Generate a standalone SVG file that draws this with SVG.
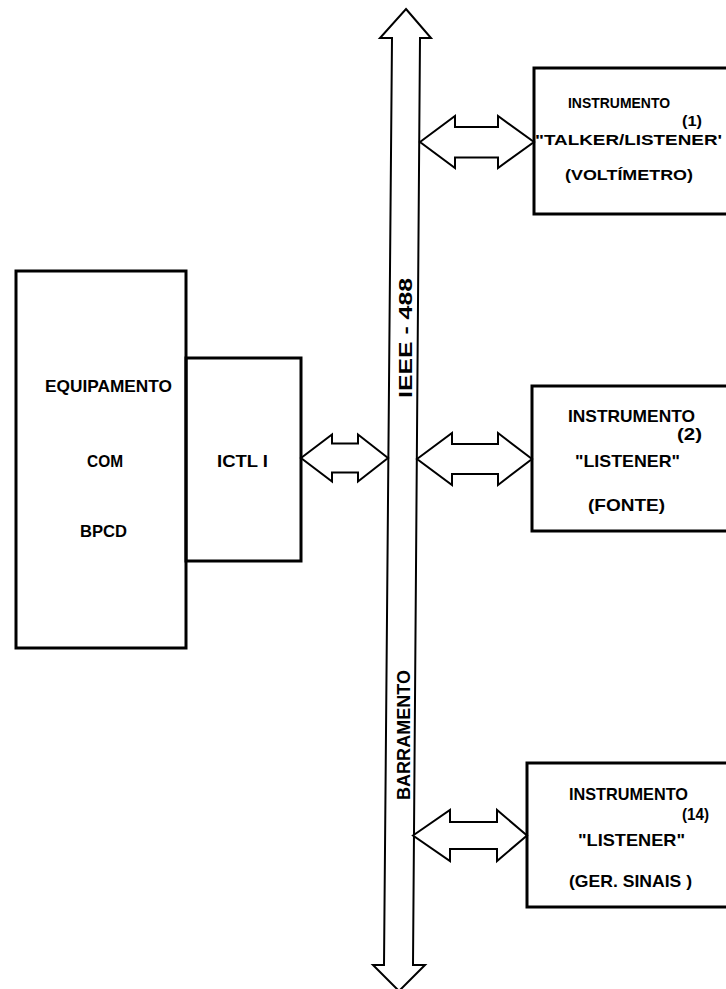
<svg xmlns="http://www.w3.org/2000/svg" width="726" height="989" viewBox="0 0 726 989">
<style>
.box{fill:none;stroke:#000;stroke-width:3}
.arr{fill:#fff;stroke:#000;stroke-width:2;stroke-linejoin:miter}
.bus{fill:#fff;stroke:#000;stroke-width:2}
text{font-family:"Liberation Sans",Arial,sans-serif;font-weight:bold;fill:#000}
.s15{font-size:15.5px}
.s16{font-size:16px}
.s17{font-size:17px}
.s18{font-size:18px}
</style>
<rect width="726" height="989" fill="#fff"/>
<g id="bus">
<polygon class="bus" points="406,9 431,38 420,38 413,965 425,965 399,991 373,965 384,965 392,38 380,38"/>
<text class="s18" transform="translate(411.5,338) rotate(-90)" text-anchor="middle" textLength="120" lengthAdjust="spacingAndGlyphs">IEEE - 488</text>
<text class="s18" transform="translate(409.5,735) rotate(-90)" text-anchor="middle" textLength="130" lengthAdjust="spacingAndGlyphs">BARRAMENTO</text>
</g>
<g id="connectors">
<polygon class="arr" points="301,458 332,434.5 332,443.5 358,443.5 358,434.5 388,458 358,481.5 358,472.5 332,472.5 332,481.5"/>
<polygon class="arr" points="420,142 455,116 455,127 498,127 498,116 534,142 498,168 498,157.5 455,157.5 455,168"/>
<polygon class="arr" points="417,459 452,433 452,444 498,444 498,433 532,459 498,485 498,474 452,474 452,485"/>
<polygon class="arr" points="413,835.5 450,810 450,822 497,822 497,810 527,835.5 497,861 497,849 450,849 450,861"/>
</g>
<g id="equipamento">
<rect class="box" x="16" y="271" width="170" height="377"/>
<text class="s17" x="45" y="392" textLength="127" lengthAdjust="spacingAndGlyphs">EQUIPAMENTO</text>
<text class="s17" x="87" y="467" textLength="36" lengthAdjust="spacingAndGlyphs">COM</text>
<text class="s17" x="80" y="537" textLength="47" lengthAdjust="spacingAndGlyphs">BPCD</text>
</g>
<g id="ictl">
<rect class="box" x="186" y="358" width="115" height="203"/>
<text class="s17" x="217" y="467" textLength="51" lengthAdjust="spacingAndGlyphs">ICTL I</text>
</g>
<g id="instr1">
<rect class="box" x="534" y="68" width="200" height="146"/>
<text class="s15" x="568" y="108" textLength="102" lengthAdjust="spacingAndGlyphs">INSTRUMENTO</text>
<text class="s15" x="682" y="126" textLength="20" lengthAdjust="spacingAndGlyphs">(1)</text>
<text class="s15" x="535" y="145" textLength="187" lengthAdjust="spacingAndGlyphs">"TALKER/LISTENER'</text>
<text class="s15" x="565" y="180" textLength="128" lengthAdjust="spacingAndGlyphs">(VOLTÍMETRO)</text>
</g>
<g id="instr2">
<rect class="box" x="532" y="386" width="200" height="145"/>
<text class="s17" x="568" y="422" textLength="127" lengthAdjust="spacingAndGlyphs">INSTRUMENTO</text>
<text class="s17" x="677" y="440" textLength="25" lengthAdjust="spacingAndGlyphs">(2)</text>
<text class="s17" x="575" y="467" textLength="105" lengthAdjust="spacingAndGlyphs">"LISTENER"</text>
<text class="s17" x="588" y="511" textLength="77" lengthAdjust="spacingAndGlyphs">(FONTE)</text>
</g>
<g id="instr14">
<rect class="box" x="527" y="763" width="205" height="144"/>
<text class="s17" x="569" y="800" textLength="119" lengthAdjust="spacingAndGlyphs">INSTRUMENTO</text>
<text class="s16" x="682" y="820" textLength="27" lengthAdjust="spacingAndGlyphs">(14)</text>
<text class="s17" x="578" y="846" textLength="107" lengthAdjust="spacingAndGlyphs">"LISTENER"</text>
<text class="s17" x="569" y="887" textLength="123" lengthAdjust="spacingAndGlyphs">(GER. SINAIS )</text>
</g>
</svg>
